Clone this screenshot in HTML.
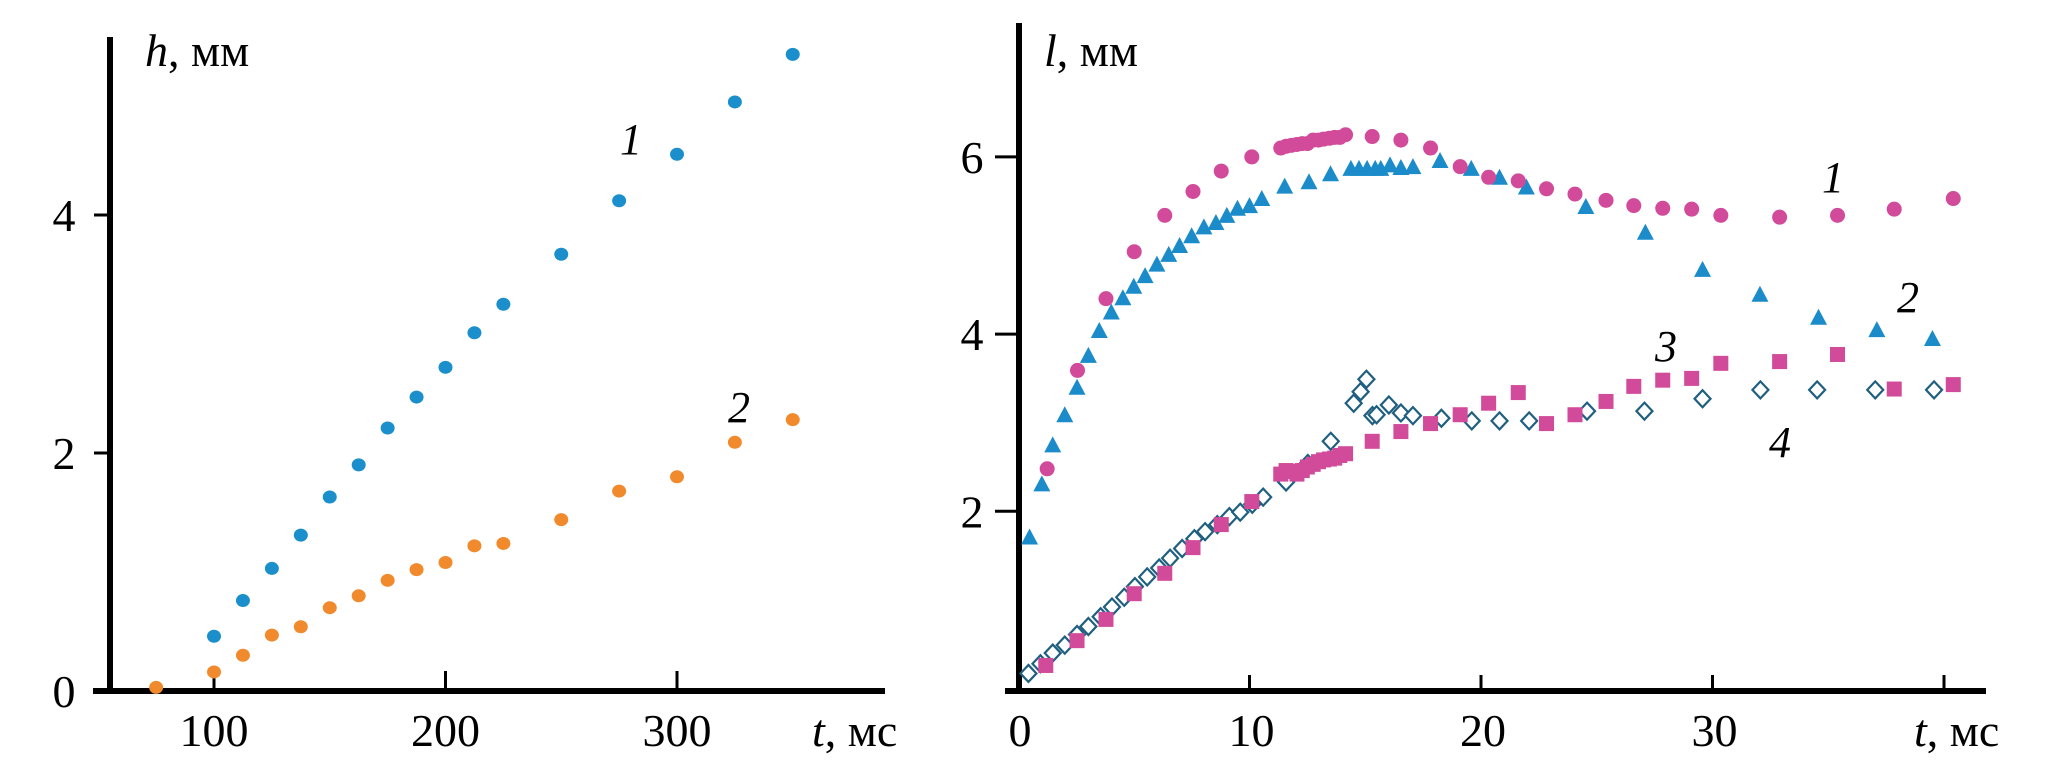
<!DOCTYPE html>
<html><head><meta charset="utf-8"><style>
html,body{margin:0;padding:0;background:#fff;}
svg{display:block;font-family:"Liberation Serif",serif;}
</style></head><body>
<svg id="chart" width="2058" height="761" viewBox="0 0 2058 761" xmlns="http://www.w3.org/2000/svg"></svg>
<script>
// ---- Left chart data: h (mm) vs t (ms) ----
const leftT1 = [100,112.5,125,137.5,150,162.5,175,187.5,200,212.5,225,250,275,300,325,350];
const leftH1 = [0.46,0.76,1.03,1.31,1.63,1.90,2.21,2.47,2.72,3.01,3.25,3.67,4.12,4.51,4.95,5.35];
const leftT2 = [75,100,112.5,125,137.5,150,162.5,175,187.5,200,212.5,225,250,275,300,325,350];
const leftH2 = [0.03,0.16,0.30,0.47,0.54,0.70,0.80,0.93,1.02,1.08,1.22,1.24,1.44,1.68,1.80,2.09,2.28];
const leftXTicks = [100,200,300];
const leftYTicks = [0,2,4];

// ---- Right chart data: l (mm) vs t (ms) ----
const s1T = [1.26,2.57,3.8,5.02,6.34,7.56,8.78,10.1,11.35,11.58,11.81,12.05,12.28,12.5,12.75,12.98,13.2,13.45,13.68,13.9,14.15,15.3,16.54,17.82,19.1,20.33,21.61,22.83,24.06,25.4,26.6,27.85,29.1,30.36,32.9,35.4,37.85,40.4];
const s1L = [2.48,3.59,4.4,4.93,5.34,5.61,5.84,6.0,6.1,6.12,6.13,6.14,6.15,6.15,6.19,6.19,6.2,6.21,6.22,6.22,6.25,6.23,6.19,6.1,5.89,5.77,5.73,5.64,5.58,5.51,5.45,5.42,5.41,5.34,5.32,5.34,5.41,5.53];
const s2T = [0.5,1.03,1.5,2.02,2.55,3.04,3.51,4.03,4.53,5.0,5.49,6.0,6.51,6.98,7.5,8.03,8.55,9.02,9.48,10.0,10.53,11.52,12.57,13.5,14.38,14.73,15.08,15.43,15.67,16.07,16.54,17.06,18.23,19.58,20.8,21.96,24.53,27.1,29.57,32.05,34.58,37.1,39.5];
const s2L = [1.71,2.31,2.75,3.09,3.4,3.76,4.04,4.25,4.41,4.54,4.66,4.79,4.9,5.0,5.11,5.21,5.26,5.34,5.42,5.45,5.53,5.67,5.72,5.81,5.87,5.87,5.87,5.87,5.87,5.91,5.88,5.89,5.96,5.87,5.77,5.66,5.44,5.15,4.73,4.45,4.19,4.05,3.95];
const s3T = [1.2,2.55,3.8,5.02,6.34,7.56,8.78,10.1,11.35,11.58,11.81,12.05,12.28,12.5,12.75,12.98,13.2,13.45,13.68,13.9,14.15,15.3,16.54,17.82,19.1,20.33,21.61,22.83,24.06,25.4,26.6,27.85,29.1,30.36,32.9,35.4,37.85,40.4];
const s3L = [0.26,0.54,0.78,1.07,1.3,1.59,1.85,2.11,2.42,2.46,2.45,2.42,2.46,2.5,2.53,2.56,2.58,2.59,2.6,2.63,2.65,2.79,2.9,2.99,3.09,3.22,3.34,2.99,3.09,3.24,3.41,3.48,3.5,3.67,3.69,3.77,3.38,3.43];
const s4T = [0.45,0.97,1.5,2.02,2.55,3.04,3.57,4.06,4.59,5.05,5.58,6.1,6.57,7.09,7.62,8.08,8.61,9.13,9.6,10.12,10.59,11.58,12.52,13.51,14.5,14.8,15.05,15.31,15.49,16.02,16.54,17.06,18.29,19.6,20.8,22.08,24.58,27.06,29.57,32.07,34.52,37.03,39.57];
const s4L = [0.17,0.28,0.4,0.49,0.61,0.7,0.81,0.92,1.03,1.15,1.26,1.36,1.47,1.58,1.69,1.77,1.85,1.94,1.99,2.08,2.16,2.33,2.54,2.79,3.22,3.35,3.49,3.08,3.09,3.2,3.11,3.08,3.05,3.02,3.02,3.02,3.13,3.13,3.27,3.37,3.37,3.37,3.37];
const rightXTicks = [0,10,20,30];
const rightYTicks = [2,4,6];

const NS = "http://www.w3.org/2000/svg";
const svg = document.getElementById('chart');
function mk(tag, attrs, parent){ const e=document.createElementNS(NS,tag); for(const k in attrs) e.setAttribute(k,attrs[k]); (parent||svg).appendChild(e); return e; }

const lx = t => 214 + (t-100)*2.315;
const ly = h => 691 - h*119;
const rx = t => 1018 + t*23.15;
const ry = l => 688.5 - l*88.6;
const FS = 46;

// ---------- LEFT CHART ----------
const gL = mk('g',{});


const ly1 = mk('line',{x1:110,y1:37,x2:110,y2:694,stroke:'#000','stroke-width':6},gL);
 
const lx1 = mk('line',{x1:93,y1:691,x2:885,y2:691,stroke:'#000','stroke-width':6},gL);
 
leftXTicks.forEach(v=>{
  const t=mk('line',{x1:lx(v),y1:671,x2:lx(v),y2:691,stroke:'#000','stroke-width':3},gL);
   
  const tx=mk('text',{x:lx(v),y:746,'text-anchor':'middle','font-size':FS},gL);
  tx.textContent=v;
   
});
leftYTicks.forEach(v=>{
  if(v>0){
    const t=mk('line',{x1:94,y1:ly(v),x2:110,y2:ly(v),stroke:'#000','stroke-width':3},gL);
     
  }
  const tx=mk('text',{x:64,y:ly(v)+16,'text-anchor':'middle','font-size':FS},gL);
  tx.textContent=v;
   
});
const lyt = mk('text',{x:145,y:66,'font-size':FS},gL);
lyt.innerHTML='<tspan font-style="italic">h</tspan>, мм';
 
const lxt = mk('text',{x:812,y:746,'font-size':FS},gL);
lxt.innerHTML='<tspan font-style="italic">t</tspan>, мс';
 
leftT1.forEach((t,i)=>{
  const c=mk('ellipse',{cx:lx(t),cy:ly(leftH1[i]),rx:7,ry:6.5,fill:'#1b8fcb'},gL);
   
});
leftT2.forEach((t,i)=>{
  const c=mk('ellipse',{cx:lx(t),cy:ly(leftH2[i]),rx:7,ry:6.5,fill:'#f08a2c'},gL);
   
});
const ll1=mk('text',{x:620,y:154,'font-size':44,'font-style':'italic'},gL); ll1.textContent='1';
 
const ll2=mk('text',{x:728,y:422,'font-size':44,'font-style':'italic'},gL); ll2.textContent='2';
 

// ---------- RIGHT CHART ----------
const gR = mk('g',{});


const ry1 = mk('line',{x1:1019,y1:23,x2:1019,y2:694,stroke:'#000','stroke-width':6},gR);
 
const rx1 = mk('line',{x1:1005,y1:691,x2:1986,y2:691,stroke:'#000','stroke-width':6},gR);
 
rightXTicks.concat([40]).forEach(v=>{
  if(v>0){
    const t=mk('line',{x1:rx(v),y1:675,x2:rx(v),y2:691,stroke:'#000','stroke-width':3},gR);
     
  }
});
rightXTicks.forEach(v=>{
  const tx=mk('text',{x:rx(v)+2,y:746,'text-anchor':'middle','font-size':FS},gR);
  tx.textContent=v;
   
});
rightYTicks.forEach(v=>{
  const t=mk('line',{x1:995,y1:ry(v),x2:1019,y2:ry(v),stroke:'#000','stroke-width':3},gR);
   
  const tx=mk('text',{x:972,y:ry(v)+16,'text-anchor':'middle','font-size':FS},gR);
  tx.textContent=v;
   
});
const ryt = mk('text',{x:1044,y:66,'font-size':FS},gR);
ryt.innerHTML='<tspan font-style="italic">l</tspan>, мм';
 
const rxt = mk('text',{x:1914,y:746,'font-size':FS},gR);
rxt.innerHTML='<tspan font-style="italic">t</tspan>, мс';
 

s4T.forEach((t,i)=>{
  const x=rx(t), y=ry(s4L[i]);
  const d=mk('polygon',{points:`${x},${y-8.5} ${x+8},${y} ${x},${y+8.5} ${x-8},${y}`,fill:'#fff',stroke:'#1f5f80','stroke-width':2.2},gR);
   
});
s3T.forEach((t,i)=>{
  const x=rx(t), y=ry(s3L[i]);
  const r=mk('rect',{x:x-7.5,y:y-7.5,width:15,height:15,fill:'#d24a9a'},gR);
   
});
s2T.forEach((t,i)=>{
  const x=rx(t), y=ry(s2L[i]);
  const p=mk('polygon',{points:`${x},${y-8.5} ${x+8.5},${y+7.5} ${x-8.5},${y+7.5}`,fill:'#1b8cc9'},gR);
   
});
s1T.forEach((t,i)=>{
  const c=mk('circle',{cx:rx(t),cy:ry(s1L[i]),r:7.5,fill:'#d24a9a'},gR);
   
});
[['1',1822,192],['2',1897,312],['3',1655,361],['4',1769,457]].forEach(a=>{
  const tx=mk('text',{x:a[1],y:a[2],'font-size':44,'font-style':'italic'},gR);
  tx.textContent=a[0];
   
});
</script>
</body></html>
